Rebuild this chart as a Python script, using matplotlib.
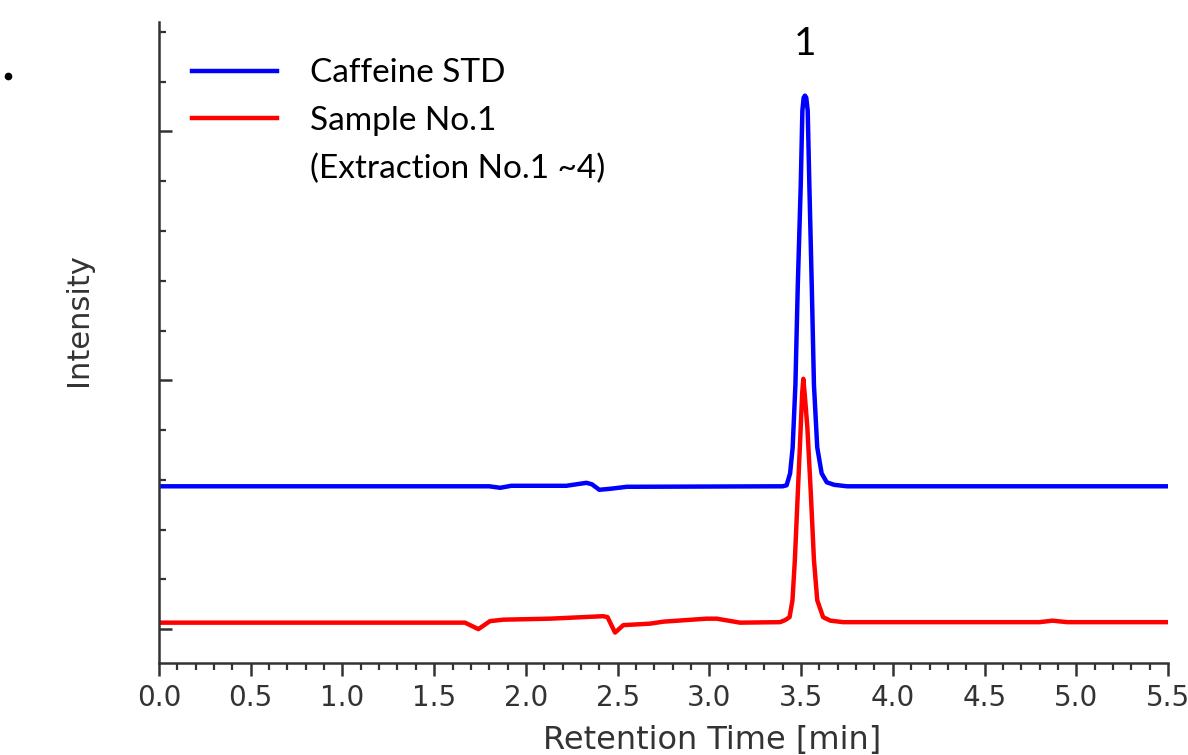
import matplotlib.pyplot as plt
from matplotlib.lines import Line2D
from matplotlib.ticker import MultipleLocator

# Caffeine standard chromatogram (arbitrary units)
std_time = [0.0, 1.80, 1.86, 1.92, 2.22, 2.33, 2.36, 2.40, 2.46, 2.55, 3.40,
            3.421, 3.440, 3.454, 3.469, 3.482, 3.498, 3.507, 3.514, 3.521,
            3.528, 3.536, 3.545, 3.558, 3.570, 3.588, 3.612, 3.640, 3.68,
            3.75, 5.5]
std_int = [2.87, 2.87, 2.84, 2.88, 2.88, 2.94, 2.91, 2.80, 2.82, 2.86, 2.87,
           2.89, 3.13, 3.65, 4.91, 6.92, 8.92, 10.42, 10.68, 10.72,
           10.68, 10.42, 8.92, 6.92, 4.91, 3.65, 3.13, 2.95, 2.90,
           2.87, 2.87]

# Sample No.1
smp_time = [0.0, 1.40, 1.668, 1.741, 1.804, 1.877, 2.131, 2.422, 2.445, 2.486,
            2.531, 2.677, 2.749, 2.985, 3.04, 3.167, 3.385, 3.412, 3.437,
            3.453, 3.466, 3.482, 3.498, 3.506, 3.512, 3.519, 3.534, 3.553,
            3.570, 3.588, 3.620, 3.66, 3.73, 4.80, 4.87, 4.95, 5.5]
smp_int = [0.13, 0.13, 0.13, 0.0, 0.16, 0.19, 0.21, 0.26, 0.24, -0.07,
           0.08, 0.11, 0.15, 0.21, 0.21, 0.13, 0.14, 0.18, 0.24,
           0.58, 1.39, 2.73, 4.06, 4.75, 5.03, 4.75, 4.06, 2.73,
           1.39, 0.58, 0.24, 0.17, 0.14, 0.14, 0.17, 0.14, 0.14]

labels = ['Caffeine STD', 'Sample No.1', '(Extraction No.1 ~4)']
peak_label = '1'
peak_pos = (3.52, 11.75)

fig = plt.figure(figsize=(11.88, 7.55), dpi=100)
ax = fig.add_axes([0.1338, 0.1219, 0.8494, 0.8490])

ax.plot(std_time, std_int, color='#0000ff', lw=3.2, solid_joinstyle='round')
ax.plot(smp_time, smp_int, color='#ff0000', lw=3.2, solid_joinstyle='round')

ax.set_xlim(0, 5.5)
ax.set_ylim(-0.68, 12.2)
ax.spines['top'].set_visible(False)
ax.spines['right'].set_visible(False)
for s in ('left', 'bottom'):
    ax.spines[s].set_linewidth(1.8)
    ax.spines[s].set_color('#333333')

ax.xaxis.set_major_locator(MultipleLocator(0.5))
ax.xaxis.set_minor_locator(MultipleLocator(0.1))
ax.yaxis.set_major_locator(MultipleLocator(5))
ax.yaxis.set_minor_locator(MultipleLocator(1))
ax.tick_params(axis='x', which='major', direction='out', length=9, width=1.8,
               color='#333333', labelsize=20, labelcolor='#333333', pad=6)
ax.tick_params(axis='x', which='minor', direction='out', length=5, width=1.6,
               color='#333333')
ax.tick_params(axis='y', which='major', direction='in', length=9, width=1.8,
               color='#333333', labelleft=False)
ax.tick_params(axis='y', which='minor', direction='in', length=5, width=1.6,
               color='#333333')
ax.set_xticklabels([f'{v:.1f}' for v in ax.get_xticks()])

fig.text(712 / 1188, 1 - 741 / 755, 'Retention Time [min]', fontsize=23,
         color='#333333', ha='center', va='center')
fig.text(78 / 1188, 1 - 320 / 755, 'Intensity', fontsize=22, rotation=90,
         color='#333333', ha='center', va='center')

ax.text(peak_pos[0], peak_pos[1], peak_label, fontsize=28, ha='center',
        va='center', family='Lato')

handles = [Line2D([], [], color='#0000ff', lw=3.2),
           Line2D([], [], color='#ff0000', lw=3.2),
           Line2D([], [], color='none')]
leg = ax.legend(handles, labels, loc='upper left', frameon=False,
                bbox_to_anchor=(0.003, 0.99), handlelength=2.55,
                handletextpad=1.0, labelspacing=0.53,
                prop={'family': 'Lato', 'size': 24})

# stray dot at the top-left corner of the original figure
fig.add_artist(Line2D([8 / 1188], [1 - 76 / 755], marker='o', markersize=4.5,
                      color='black', transform=fig.transFigure))

fig.savefig('out.png', dpi=100)
